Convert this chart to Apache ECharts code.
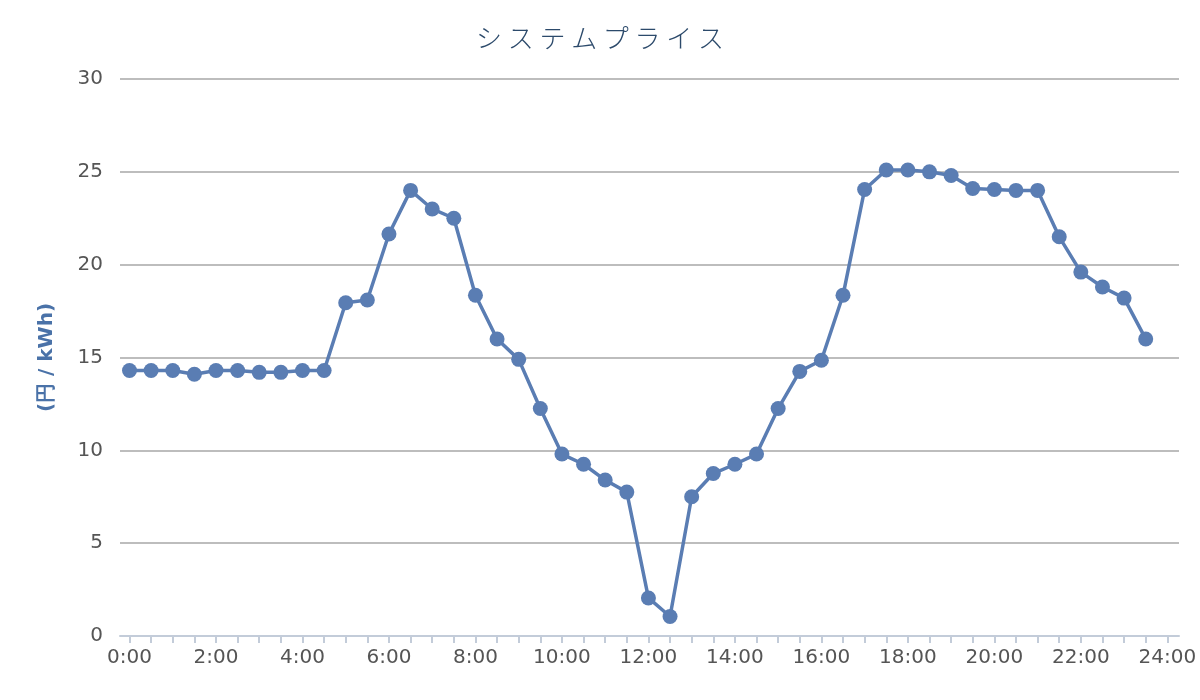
<!DOCTYPE html>
<html>
<head>
<meta charset="utf-8">
<script src="https://cdn.jsdelivr.net/npm/echarts@6/dist/echarts.min.js"></script>
<style>html,body{margin:0;padding:0;background:#fff}#c{width:1200px;height:700px}</style>
</head>
<body>
<div id="c"></div>
<script>
const times = [];
for (let h = 0; h < 24; h++) { times.push(h + ':00'); times.push(h + ':30'); }
const prices = [
  14.3, 14.3, 14.3, 14.1, 14.3, 14.3, 14.2, 14.2, 14.3, 14.3,
  17.95, 18.1, 21.65, 24.0, 23.0, 22.5, 18.35, 16.0, 14.9, 12.25,
  9.8, 9.25, 8.4, 7.75, 2.05, 1.05, 7.5, 8.75, 9.25, 9.8,
  12.25, 14.25, 14.85, 18.35, 24.05, 25.1, 25.1, 25.0, 24.8, 24.1,
  24.05, 24.0, 24.0, 21.5, 19.6, 18.8, 18.2, 16.0
];
const tickHours = [];
for (let i = 0; i <= 48; i++) tickHours.push(i / 2);
const labelHours = [0, 2, 4, 6, 8, 10, 12, 14, 16, 18, 20, 22, 24];

function hourOf(label) { const p = label.split(':'); return +p[0] + (+p[1]) / 60; }
const seriesData = times.map((t, i) => [hourOf(t), prices[i]]);

const chart = echarts.init(document.getElementById('c'));
chart.setOption({
  animation: false,
  title: {
    text: 'シ ス テ ム プ ラ イ ス',
    left: 'center', top: 20,
    textStyle: { fontFamily: 'Noto Sans CJK JP', fontWeight: 300, fontSize: 26, color: '#2c4a6b' }
  },
  grid: { left: 120, right: 21, top: 79, bottom: 64 },
  xAxis: {
    type: 'value', min: -0.22, max: 24.27,
    axisLine: { show: true, lineStyle: { color: '#c3ccd9', width: 2 } },
    axisTick: { show: true, customValues: tickHours, length: 7, lineStyle: { color: '#c3ccd9', width: 2 } },
    axisLabel: {
      customValues: labelHours, margin: 12,
      formatter: v => Math.round(v) + ':00',
      fontFamily: 'DejaVu Sans', fontSize: 20, color: '#555'
    },
    splitLine: { show: false }
  },
  yAxis: {
    type: 'value', min: 0, max: 30, interval: 5,
    name: '(円 / kWh)', nameLocation: 'middle', nameGap: 63, nameRotate: 90,
    nameTextStyle: { fontFamily: 'DejaVu Sans', fontWeight: 'bold', fontSize: 20, color: '#4a72a8' },
    axisLine: { show: false },
    axisTick: { show: false },
    axisLabel: { fontFamily: 'DejaVu Sans', fontSize: 20, color: '#555', margin: 17 },
    splitLine: { lineStyle: { color: '#bdbdbd', width: 2 } }
  },
  series: [{
    type: 'line',
    data: seriesData,
    symbol: 'circle', symbolSize: 15,
    lineStyle: { color: '#5a7db3', width: 3.5 },
    itemStyle: { color: '#5a7db3' }
  }]
});
</script>
</body>
</html>
